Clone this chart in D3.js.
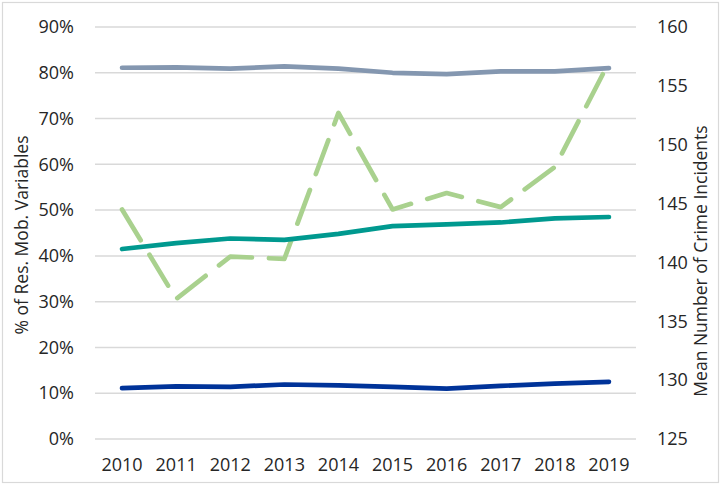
<!DOCTYPE html>
<html><head><meta charset="utf-8">
<script src="https://cdn.jsdelivr.net/npm/d3@7"></script>
<style>body{margin:0;background:#fff}svg{display:block}text{font-family:"Open Sans",sans-serif}</style>
</head><body><svg id="c" width="724" height="488"></svg>
<script>
const years = ["2010","2011","2012","2013","2014","2015","2016","2017","2018","2019"];
const grayBlue = [0.811,0.812,0.809,0.814,0.809,0.800,0.797,0.803,0.803,0.810];
const teal = [0.415,0.428,0.438,0.435,0.448,0.465,0.469,0.473,0.482,0.485];
const darkBlue = [0.111,0.115,0.114,0.119,0.117,0.114,0.110,0.116,0.121,0.125];
const crime = [144.5,136.9,140.5,140.3,152.7,144.5,145.9,144.7,148.1,157.0];
const leftTicks = [0,0.1,0.2,0.3,0.4,0.5,0.6,0.7,0.8,0.9];
const rightTicks = [125,130,135,140,145,150,155,160];

const svg = d3.select("#c");
const L=95,R=636,T=27,B=439;
svg.append("rect").attr("x",2.5).attr("y",2.5).attr("width",716).attr("height",480)
  .attr("fill","#fff").attr("stroke","#d9d9d9").attr("stroke-width",1.2);

const x = d3.scaleBand().domain(years).range([L,R]);
const yL = d3.scaleLinear().domain([0,0.9]).range([B,T]);
const yR = d3.scaleLinear().domain([125,160]).range([B,T]);

// gridlines
svg.append("g").selectAll("line").data(leftTicks).join("line")
  .attr("x1",L).attr("x2",R).attr("y1",d=>yL(d)).attr("y2",d=>yL(d))
  .attr("stroke","#d9d9d9").attr("stroke-width",1.5);

const txt="#262626";
const fs=18;
// left axis
const ga = svg.append("g").attr("transform",`translate(${L-21},0)`)
  .call(d3.axisLeft(yL).tickValues(leftTicks).tickFormat(d3.format(".0%")).tickSize(0).tickPadding(0));
ga.select(".domain").remove();
ga.selectAll("text").attr("font-size",fs).attr("fill",txt).attr("font-family","Open Sans");
// right axis
const gr = svg.append("g").attr("transform",`translate(657,0)`)
  .call(d3.axisRight(yR).tickValues(rightTicks).tickSize(0).tickPadding(0));
gr.select(".domain").remove();
gr.selectAll("text").attr("font-size",fs).attr("fill",txt).attr("font-family","Open Sans");
// x axis
const gx = svg.append("g").attr("transform",`translate(0,${B+19})`)
  .call(d3.axisBottom(x).tickSize(0).tickPadding(0));
gx.select(".domain").remove();
gx.selectAll("text").attr("font-size",fs).attr("fill",txt).attr("font-family","Open Sans");

// titles
svg.append("text").attr("transform","translate(28,235) rotate(-90)").attr("text-anchor","middle")
  .attr("font-size",17.5).attr("fill",txt).text("% of Res. Mob. Variables");
svg.append("text").attr("transform","translate(707,261) rotate(-90)").attr("text-anchor","middle")
  .attr("font-size",17.5).attr("fill",txt).text("Mean Number of Crime Incidents");

const cx = d=>x(d)+x.bandwidth()/2;
const lineL = d3.line().x((d,i)=>cx(years[i])).y(d=>yL(d));
const lineR = d3.line().x((d,i)=>cx(years[i])).y(d=>yR(d));
function draw(path,color,dash){
  const p = svg.append("path").attr("d",path).attr("fill","none").attr("stroke",color)
   .attr("stroke-width",4.7).attr("stroke-linecap","round").attr("stroke-linejoin","round");
  if(dash) p.attr("stroke-dasharray",dash);
}
draw(lineL(grayBlue),"#8497b0");
draw(lineR(crime),"#a9d18e","36,17");
draw(lineL(teal),"#00998f");
draw(lineL(darkBlue),"#003399");
</script></body></html>
